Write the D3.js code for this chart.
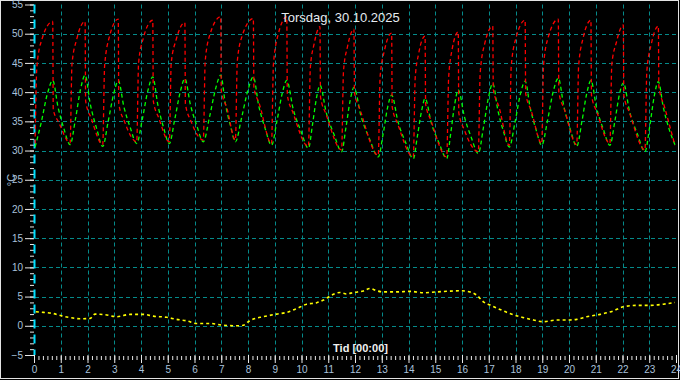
<!DOCTYPE html>
<html lang="no">
<head>
<meta charset="UTF-8">
<title>Torsdag, 30.10.2025</title>
<script src="https://d3js.org/d3.v7.min.js"></script>
<style>
  body { margin: 0; background: #000; }
  svg { display: block; font-family: Arial, "Liberation Sans", sans-serif; }
  .grid line { stroke: #058a8a; stroke-width: 1; stroke-dasharray: 4,3; }
  .ax .domain { display: none; }
  .ax line { stroke: #e8e8e8; }
  .ax text { fill: #a9c2dc; font-size: 10px; }
</style>
</head>
<body>
<svg width="680" height="380"></svg>
<script>
// tid (timer) og temperatur (°C)
const red = [
  [0.04,31.2],[0.11,44.5],[0.30,49.1],[0.70,52.1],[0.72,37.0],[0.93,34.8],
  [1.35,31.3],[1.42,44.8],[1.60,49.1],[1.91,52.1],[1.93,38.5],[2.14,35.5],
  [2.57,31.0],[2.64,44.5],[2.82,49.5],[3.15,52.5],[3.17,38.0],[3.38,35.0],
  [3.84,31.5],[3.91,45.0],[4.09,49.3],[4.44,52.3],[4.46,38.5],[4.67,35.5],
  [5.06,31.5],[5.13,45.0],[5.31,48.9],[5.64,51.9],[5.66,38.0],[5.87,35.0],
  [6.33,31.8],[6.40,45.3],[6.58,49.9],[6.98,52.9],[7.00,40.3],[7.21,37.3],
  [7.53,31.8],[7.60,45.3],[7.78,49.6],[8.20,52.6],[8.22,40.9],[8.43,37.9],
  [8.88,31.2],[8.95,44.7],[9.13,49.9],[9.45,52.9],[9.47,39.5],[9.68,36.5],
  [10.26,30.7],[10.33,44.2],[10.47,48.2],[10.69,51.2],[10.71,39.2],[10.92,36.2],
  [11.50,30.1],[11.57,43.6],[11.72,47.8],[11.96,50.8],[11.98,40.0],[12.19,37.0],
  [12.87,29.2],[12.94,42.7],[13.10,47.1],[13.37,50.1],[13.39,37.5],[13.60,34.5],
  [14.18,28.9],[14.25,42.4],[14.38,46.6],[14.62,49.6],[14.64,38.0],[14.85,35.0],
  [15.43,28.9],[15.50,42.4],[15.63,47.3],[15.86,50.3],[15.88,36.5],[16.09,33.5],
  [16.61,29.8],[16.68,43.3],[16.85,48.3],[17.15,51.3],[17.17,40.5],[17.38,37.5],
  [17.77,30.9],[17.84,44.4],[18.02,49.3],[18.36,52.3],[18.38,39.8],[18.59,36.8],
  [18.98,31.2],[19.05,44.7],[19.23,49.5],[19.60,52.5],[19.62,40.0],[19.83,37.0],
  [20.29,31.0],[20.36,44.5],[20.53,49.3],[20.82,52.3],[20.84,39.5],[21.05,36.5],
  [21.53,31.2],[21.60,44.7],[21.77,48.5],[22.03,51.5],[22.05,39.5],[22.26,36.5],
  [22.84,30.1],[22.91,43.6],[23.08,48.3],[23.34,51.3],[23.36,41.0],[23.57,37.5],
  [23.96,30.9]
];

const green = [
  [0.04,30.6],[0.27,34.8],[0.50,39.7],[0.70,42.0],[0.90,37.4],[1.12,33.7],
  [1.35,31.0],[1.55,35.4],[1.74,40.5],[1.91,42.9],[2.11,37.8],[2.34,33.8],
  [2.57,30.7],[2.77,34.9],[2.98,39.7],[3.15,42.0],[3.36,37.5],[3.60,33.9],
  [3.84,31.2],[4.05,35.4],[4.26,40.3],[4.44,42.6],[4.63,37.8],[4.84,34.0],
  [5.06,31.2],[5.26,35.3],[5.47,40.1],[5.64,42.3],[5.85,37.8],[6.09,34.2],
  [6.33,31.5],[6.56,35.7],[6.79,40.6],[6.98,42.9],[7.15,38.1],[7.34,34.3],
  [7.53,31.5],[7.76,35.6],[8.00,40.4],[8.20,42.6],[8.40,37.7],[8.64,33.8],
  [8.88,30.9],[9.08,35.0],[9.28,39.8],[9.45,42.0],[9.69,37.1],[9.98,33.3],
  [10.26,30.4],[10.41,34.4],[10.56,39.0],[10.69,41.2],[10.93,36.4],[11.22,32.7],
  [11.50,29.8],[11.66,33.9],[11.82,38.6],[11.96,40.8],[12.23,35.8],[12.55,31.9],
  [12.87,28.9],[13.05,32.8],[13.22,37.4],[13.37,39.5],[13.61,34.9],[13.90,31.3],
  [14.18,28.6],[14.33,32.4],[14.49,36.8],[14.62,38.9],[14.86,34.6],[15.15,31.2],
  [15.43,28.6],[15.58,33.0],[15.73,38.0],[15.86,40.4],[16.09,35.8],[16.35,32.2],
  [16.61,29.5],[16.80,33.9],[16.99,39.1],[17.15,41.5],[17.34,36.9],[17.55,33.3],
  [17.77,30.6],[17.98,34.8],[18.18,39.6],[18.36,41.9],[18.55,37.3],[18.76,33.7],
  [18.98,30.9],[19.20,35.2],[19.41,40.1],[19.60,42.4],[19.81,37.5],[20.05,33.6],
  [20.29,30.7],[20.48,34.9],[20.66,39.7],[20.82,42.0],[21.03,37.3],[21.28,33.7],
  [21.53,30.9],[21.71,34.9],[21.88,39.5],[22.03,41.6],[22.27,36.6],[22.56,32.8],
  [22.84,29.8],[23.02,34.2],[23.19,39.4],[23.34,41.8],[23.53,37.3],[23.74,33.7],
  [23.96,31.0]
];

const yellow = [
  [0.07,2.4],[0.35,2.3],[0.72,2.1],[1.03,1.7],[1.35,1.4],[1.72,1.2],[2.09,1.25],
  [2.28,2.0],[2.72,1.85],[3.09,1.55],[3.59,1.95],[4.09,1.95],[4.46,1.65],[4.96,1.45],
  [5.33,1.1],[5.71,0.85],[6.08,0.4],[6.58,0.4],[7.08,0.1],[7.58,0.0],[7.83,0.1],
  [8.01,0.7],[8.20,1.15],[8.57,1.55],[9.07,2.0],[9.45,2.3],[9.82,2.95],[10.19,3.7],
  [10.57,3.95],[10.82,4.4],[11.07,5.1],[11.44,5.7],[11.69,5.45],[11.94,5.7],
  [12.31,5.95],[12.56,6.4],[12.81,6.0],[13.06,5.8],[13.56,5.8],[14.06,5.9],
  [14.55,5.65],[15.05,5.8],[15.43,5.9],[15.93,6.0],[16.30,5.8],[16.55,5.25],
  [16.80,4.1],[17.05,3.55],[17.42,2.8],[17.79,2.1],[18.17,1.55],[18.67,1.0],
  [19.04,0.7],[19.54,1.0],[20.04,1.0],[20.29,1.1],[20.66,1.55],[21.16,1.95],
  [21.66,2.55],[22.03,3.25],[22.53,3.5],[23.03,3.5],[23.52,3.7],[23.96,4.0]
];

const hourTicks = [0,1,2,3,4,5,6,7,8,9,10,11,12,13,14,15,16,17,18,19,20,21,22,23,24];
const tempTicks = [-5,0,5,10,15,20,25,30,35,40,45,50,55];
const gridTemps = [0,5,10,15,20,25,30,35,40,45,50];
const gridHours = [1,2,3,4,5,6,7,8,9,10,11,12,13,14,15,16,17,18,19,20,21,22,23];

const svg = d3.select("svg");

const x = d3.scaleLinear().domain([0, 24]).range([34, 676]);
const y = d3.scaleLinear().domain([-5, 55]).range([355, 4.5]);

// ramme
svg.append("rect")
  .attr("x", 0.5).attr("y", 0.5).attr("width", 678).attr("height", 378)
  .attr("fill", "none").attr("stroke", "#e4e4e4");

// rutenett
const grid = svg.append("g").attr("class", "grid");
grid.selectAll(".h").data(gridTemps).enter().append("line")
  .attr("x1", x(0) + 1).attr("x2", x(24))
  .attr("y1", d => Math.round(y(d)) + 0.5).attr("y2", d => Math.round(y(d)) + 0.5);
grid.selectAll(".v").data(gridHours).enter().append("line")
  .attr("y1", y(55)).attr("y2", y(-5))
  .attr("x1", d => Math.round(x(d)) + 0.5).attr("x2", d => Math.round(x(d)) + 0.5);

// y-akse
const minorT = d3.range(-5, 56, 1);
svg.append("g").attr("class", "ax").attr("transform", "translate(34,0)")
  .call(d3.axisLeft(y).tickValues(minorT).tickSize(4).tickFormat(""));
svg.append("g").attr("class", "ax").attr("transform", "translate(34,0)")
  .call(d3.axisLeft(y).tickValues(tempTicks).tickSize(9).tickPadding(2));
svg.append("line")
  .attr("x1", 34.5).attr("x2", 34.5).attr("y1", y(55)).attr("y2", y(-5))
  .attr("stroke", "#00e0ff").attr("stroke-width", 2).attr("stroke-dasharray", "9,6");

// x-akse
const minorH = d3.range(0, 24.01, 1 / 6);
svg.append("g").attr("class", "ax").attr("transform", "translate(0,356)")
  .call(d3.axisBottom(x).tickValues(minorH).tickSize(4).tickFormat(""));
svg.append("g").attr("class", "ax").attr("transform", "translate(0,355)")
  .call(d3.axisBottom(x).tickValues(hourTicks).tickSize(8).tickPadding(3).tickFormat(d3.format("d")));

// serier
const line = d3.line().x(d => x(d[0])).y(d => y(d[1])).curve(d3.curveMonotoneX);

svg.append("path").datum(green)
  .attr("d", line).attr("fill", "none")
  .attr("stroke", "#00ff00").attr("stroke-width", 1.3).attr("stroke-dasharray", "4,3");
svg.append("path").datum(red)
  .attr("d", line).attr("fill", "none")
  .attr("stroke", "#ff0000").attr("stroke-width", 1.3).attr("stroke-dasharray", "4,3");
svg.append("path").datum(yellow)
  .attr("d", line).attr("fill", "none")
  .attr("stroke", "#ffff00").attr("stroke-width", 1.6).attr("stroke-dasharray", "3,3");

// tekster
svg.append("text")
  .attr("x", 340.5).attr("y", 22).attr("text-anchor", "middle")
  .attr("fill", "#e6ebf0").style("font-size", "13px")
  .text("Torsdag, 30.10.2025");

svg.append("text")
  .attr("x", 360.5).attr("y", 352).attr("text-anchor", "middle")
  .attr("fill", "#f0f0f0").style("font-size", "11px").style("font-weight", "bold")
  .text("Tid [00:00]");

svg.append("text")
  .attr("transform", "translate(15,180) rotate(-90)").attr("text-anchor", "middle")
  .attr("fill", "#a9c2dc").style("font-size", "11px")
  .text("°C");
</script>
</body>
</html>
